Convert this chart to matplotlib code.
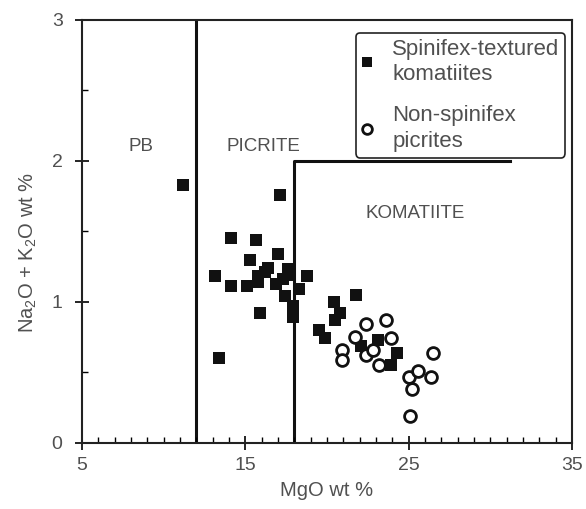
import matplotlib
matplotlib.use("Agg")
import matplotlib.pyplot as plt
from matplotlib.lines import Line2D
from matplotlib.ticker import MultipleLocator

plt.rcParams['font.family'] = ['Liberation Sans', 'DejaVu Sans']
plt.rcParams['mathtext.default'] = 'regular'

# Spinifex-textured komatiites (filled squares)
spx_mgo = [11.2, 17.1, 14.1, 15.65, 17.0, 15.3, 13.15, 14.1, 15.1, 15.8, 16.4, 15.8,
           16.9, 17.6, 17.4, 17.9, 17.9, 15.9, 13.4, 17.6, 18.8, 21.8, 20.4, 20.8,
           20.5, 19.5, 19.9, 22.1, 23.1, 24.3, 23.9, 16.2, 17.3, 18.3]
spx_alk = [1.83, 1.76, 1.45, 1.44, 1.34, 1.30, 1.18, 1.11, 1.11, 1.18, 1.24, 1.14,
           1.13, 1.23, 1.04, 0.97, 0.89, 0.92, 0.60, 1.19, 1.18, 1.05, 1.00, 0.92,
           0.87, 0.80, 0.74, 0.69, 0.73, 0.64, 0.55, 1.21, 1.16, 1.09]

# Non-spinifex picrites (open circles)
pic_mgo = [22.4, 23.6, 21.7, 23.9, 20.9, 20.9, 22.4, 22.8, 23.2, 26.5, 25.0, 25.6,
           26.4, 25.2, 25.1]
pic_alk = [0.84, 0.87, 0.75, 0.74, 0.66, 0.59, 0.62, 0.66, 0.55, 0.64, 0.47, 0.51,
           0.47, 0.38, 0.19]

# field boundaries
pb_x = [12, 12]
pb_y = [0, 3]
kom_x = [18, 18, 31.2]
kom_y = [0, 2, 2]

fields = ["PB", "PICRITE", "KOMATIITE"]
field_x = [8.6, 16.1, 25.4]
field_y = [2.10, 2.10, 1.63]

grey = '#505050'

fig = plt.figure(figsize=(5.86, 5.09), dpi=100)
ax = fig.add_axes([0.140, 0.130, 0.836, 0.831])

ax.plot(pb_x, pb_y, color='#111111', lw=2.2, zorder=1)
ax.plot(kom_x, kom_y, color='#111111', lw=2.2, zorder=1)

ax.plot(spx_mgo, spx_alk, 's', color='#111111', ms=8, mew=0, zorder=3)
ax.plot(pic_mgo, pic_alk, 'o', mfc='white', mec='#111111', ms=8.5, mew=2, zorder=3)

for name, fx, fy in zip(fields, field_x, field_y):
    ax.text(fx, fy, name, ha='center', va='center', fontsize=13.5, color=grey)

ax.set_xlim(5, 35)
ax.set_ylim(0, 3)
ax.set_xticks([5, 15, 25, 35])
ax.set_yticks([0, 1, 2, 3])
ax.xaxis.set_minor_locator(MultipleLocator(1))
ax.yaxis.set_minor_locator(MultipleLocator(0.5))
ax.tick_params(which='major', direction='inout', length=10, width=1.2,
               labelsize=14, labelcolor=grey)
ax.tick_params(axis='x', which='major', pad=5)
ax.tick_params(axis='y', which='major', pad=9)
ax.tick_params(which='minor', direction='in', length=4, width=1)
for s in ax.spines.values():
    s.set_linewidth(1.5)
    s.set_color('#222222')

ax.set_xlabel('MgO wt %', fontsize=14.5, color=grey, labelpad=5)
ax.set_ylabel('Na$_2$O + K$_2$O wt %', fontsize=14.5, color=grey)
ax.yaxis.set_label_coords(-0.088, 0.45)

handles = [
    Line2D([], [], ls='none', marker='s', color='#111111', ms=6.5, mew=0),
    Line2D([], [], ls='none', marker='o', mfc='white', mec='#111111', ms=7, mew=2),
]
labels = ['Spinifex-textured\nkomatiites', 'Non-spinifex\npicrites']
leg = ax.legend(handles, labels, loc='upper right', bbox_to_anchor=(0.986, 0.969),
                borderaxespad=0, fontsize=16, frameon=True, fancybox=True,
                handlelength=0.5, handletextpad=0.9, labelspacing=0.9,
                borderpad=0.25, labelcolor=grey)
for t in leg.get_texts():
    t.set_linespacing(1.3)
leg.get_frame().set_edgecolor('#222222')
leg.get_frame().set_linewidth(1.2)
leg.get_frame().set_alpha(1)

plt.savefig('out.png', dpi=100)
